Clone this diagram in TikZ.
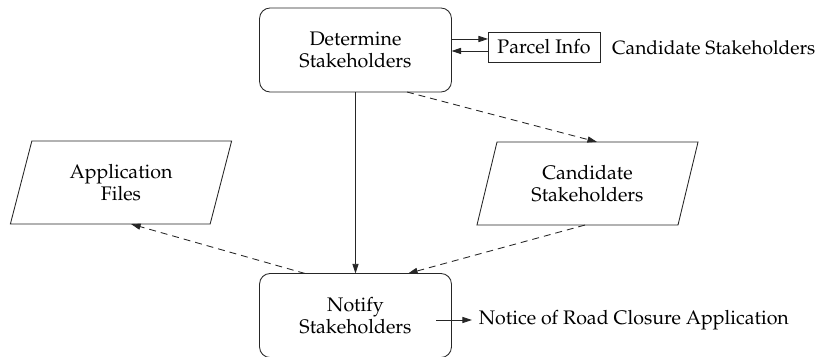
\documentclass[tikz,border=0pt]{standalone}
\usepackage[T1]{fontenc}
\usepackage{mathpazo}
\usetikzlibrary{arrows.meta,shapes.geometric,calc}

\colorlet{ink}{black!85}

\tikzset{
  every node/.style={font=\fontsize{10.2}{11.7}\selectfont, align=center},
  process/.style={draw=ink, rounded corners=5.5pt, minimum width=99.8pt,
    minimum height=43.7pt, inner sep=0pt, outer sep=0pt, line width=0.45pt},
  store/.style={draw=ink, trapezium, trapezium left angle=71.5, trapezium right angle=108.5,
    trapezium stretches=true, minimum width=115.4pt, minimum height=43.2pt,
    inner sep=0pt, outer sep=0pt, line width=0.45pt},
  datum/.style={draw=ink, minimum width=58.2pt, minimum height=15.6pt, inner sep=0pt,
    outer sep=0pt, line width=0.45pt},
  plain/.style={inner sep=0pt, outer sep=0pt},
  flow/.style={draw=ink, line width=0.45pt, -{Triangle[length=5pt,width=3.2pt]}},
  dataflow/.style={flow, dash pattern=on 3.6pt off 2.6pt},
}

\begin{document}
\begin{tikzpicture}[x=0.52pt, y=0.52pt]
  \useasboundingbox (0,0) rectangle (818,356);

  % processes
  \node[process] (det) at (355.5,306) {Determine\\Stakeholders};
  \node[process] (notify) at (355.5,40.5) {Notify\\Stakeholders};

  % parcel lookup and its result
  \node[datum] (parcel) at (544,309) {Parcel Info};
  \node[plain, anchor=west, font=\fontsize{10}{11.5}\selectfont] (candlabel) at (612,308) {Candidate Stakeholders};

  % data stores
  \node[store] (app) at (121,173.5) {Application\\Files};
  \node[store] (cand) at (587.5,172.5) {Candidate\\Stakeholders};

  % output of the notification step
  \coordinate (outstart) at (436,36);
  \node[plain, anchor=west, inner sep=3.6pt] (notice) at (472,36) {Notice of Road Closure Application};

  % parcel info exchange
  \draw[flow] (det.east |- 0,317) -- (parcel.west |- 0,317);
  \draw[flow] (parcel.west |- 0,305) -- (det.east |- 0,305);

  % control flow
  \draw[flow] (det.south) -- (det.south |- notify.north);

  % data flows
  \draw[dataflow] ($(det.south)+(51.5,0)$) -- ($(cand.north)+(9.5,0)$);
  \draw[dataflow] ($(cand.south)+(-2.5,0)$) -- ($(notify.north)+(52.5,0)$);
  \draw[dataflow] ($(notify.north)+(-50.5,0)$) -- ($(app.south)+(10,0)$);

  % notice output
  \draw[flow] (outstart) -- (notice.west);
\end{tikzpicture}
\end{document}
